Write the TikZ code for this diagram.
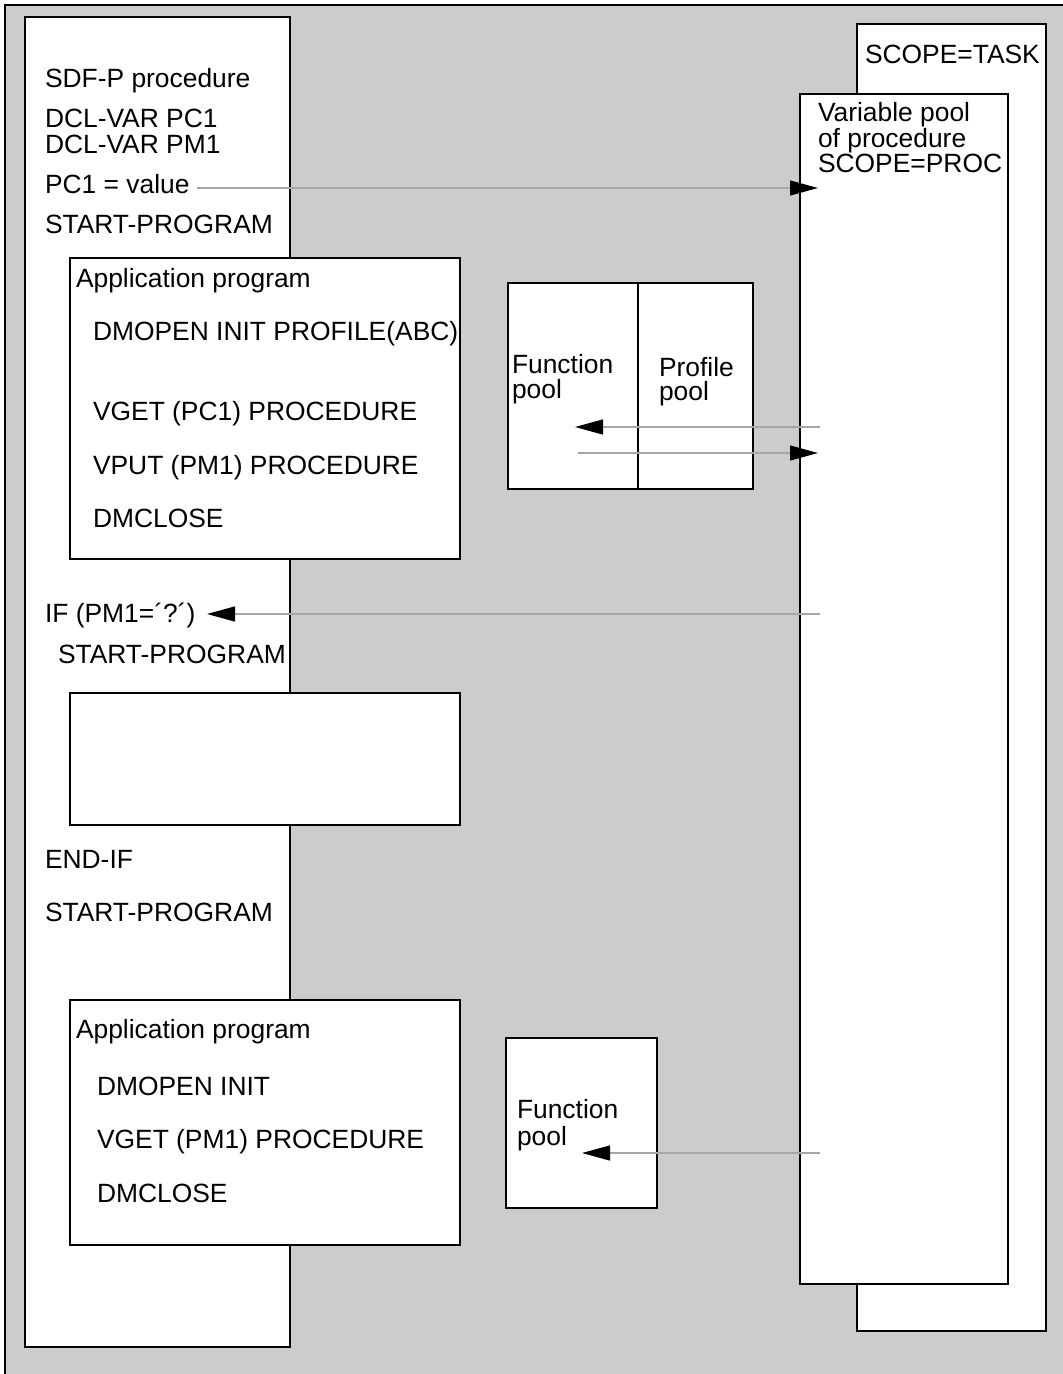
\documentclass[tikz,border=0pt]{standalone}
\usepackage{fontspec}
\setmainfont{Liberation Sans}
\usetikzlibrary{arrows.meta}

\begin{document}
\begin{tikzpicture}[x=1pt,y=-1pt,
  box/.style={draw=black,line width=1.5pt,fill=white,anchor=north west,
    inner sep=0pt,outer sep=0pt},
  lbl/.style={anchor=base west,inner sep=0pt,outer sep=0pt,
    font=\fontsize{26.4}{28}\selectfont},
  flow/.style={draw=black!35,line width=1.3pt,
    -{Triangle[length=28pt,width=15pt,color=black]}},
]
\useasboundingbox (0,0) rectangle (1063,1374);

% grey frame
\fill[black!20] (5,5) rectangle (1070,1380);
\draw[line width=1.5pt] (5,1380) -- (5,5) -- (1070,5);

% SDF-P procedure column
\node[box,minimum width=265pt,minimum height=1330pt] (proc) at (25,17) {};

% application programs
\node[box,minimum width=390pt,minimum height=301pt] (app1) at (70,258) {};
\node[box,minimum width=390pt,minimum height=132pt] (app2) at (70,693) {};
\node[box,minimum width=390pt,minimum height=245pt] (app3) at (70,1000) {};

% function / profile pools
\node[box,minimum width=245pt,minimum height=206pt] (pools) at (508,283) {};
\draw[line width=1.5pt] (638,283) -- (638,489);
\node[box,minimum width=151pt,minimum height=170pt] (fpool2) at (506,1038) {};

% task scope and procedure variable pool
\node[box,minimum width=189pt,minimum height=1307pt] (task) at (857,24) {};
\node[box,minimum width=208pt,minimum height=1190pt] (varpool) at (800,94) {};

% procedure text
\node[lbl] (sdfp)  at (45,87)  {SDF-P procedure};
\node[lbl] (dclc)  at (45,127) {DCL-VAR PC1};
\node[lbl] (dclm)  at (45,153) {DCL-VAR PM1};
\node[lbl] (pc1)   at (45,193) {PC1 = value};
\node[lbl] (start1) at (45,233) {START-PROGRAM};
\node[lbl] (ifpm)  at (45,622) {IF (PM1=´?´)};
\node[lbl] (start2) at (58,663) {START-PROGRAM};
\node[lbl] (endif) at (45,868) {END-IF};
\node[lbl] (start3) at (45,921) {START-PROGRAM};

% first application program
\node[lbl] (ap1)   at (76,287) {Application program};
\node[lbl] (dmo1)  at (93,340) {DMOPEN INIT PROFILE(ABC)};
\node[lbl] (vget1) at (93,420) {VGET (PC1) PROCEDURE};
\node[lbl] (vput1) at (93,474) {VPUT (PM1) PROCEDURE};
\node[lbl] (dmc1)  at (93,527) {DMCLOSE};

% second application program
\node[lbl] (ap3)   at (76,1038) {Application program};
\node[lbl] (dmo3)  at (97,1095) {DMOPEN INIT};
\node[lbl] (vget3) at (97,1148) {VGET (PM1) PROCEDURE};
\node[lbl] (dmc3)  at (97,1202) {DMCLOSE};

% pool labels
\node[lbl] (fp1a) at (512,373) {Function};
\node[lbl] (fp1b) at (512,398) {pool};
\node[lbl] (pp1a) at (659,376) {Profile};
\node[lbl] (pp1b) at (659,400) {pool};
\node[lbl] (fp2a) at (517,1118) {Function};
\node[lbl] (fp2b) at (517,1145) {pool};

\node[lbl] (tasklbl) at (865,63) {SCOPE=TASK};
\node[lbl] (vp1) at (818,121) {Variable pool};
\node[lbl] (vp2) at (818,147) {of procedure};
\node[lbl] (vp3) at (818,172) {SCOPE=PROC};

% connector end points
\coordinate (pc1out) at (197,188);
\coordinate (vpin1)  at (818,188);
\coordinate (vpout1) at (820,427);
\coordinate (fpin1)  at (575,427);
\coordinate (fpout1) at (578,453);
\coordinate (vpin2)  at (818,453);
\coordinate (vpout2) at (820,614);
\coordinate (ifin)   at (207,614);
\coordinate (vpout3) at (820,1153);
\coordinate (fpin2)  at (582,1153);

% data flows
\draw[flow] (pc1out) -- (vpin1);
\draw[flow] (vpout1) -- (fpin1);
\draw[flow] (fpout1) -- (vpin2);
\draw[flow] (vpout2) -- (ifin);
\draw[flow] (vpout3) -- (fpin2);
\end{tikzpicture}
\end{document}
